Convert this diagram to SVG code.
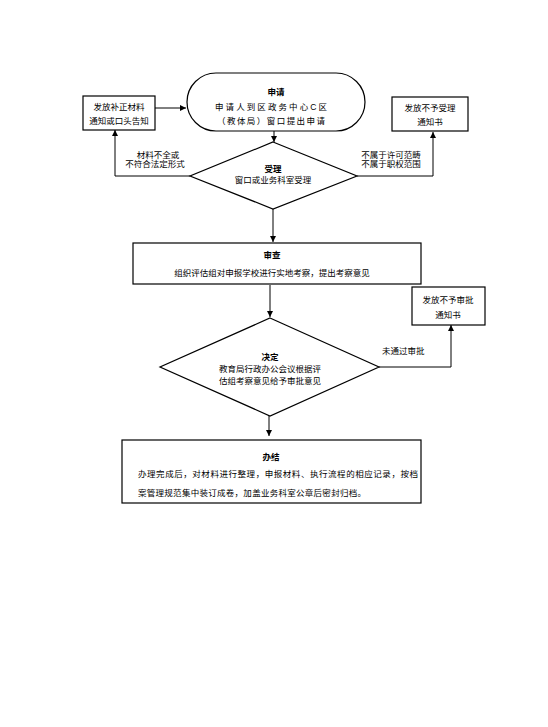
<svg xmlns="http://www.w3.org/2000/svg" width="548" height="727" viewBox="0 0 548 727">
<defs>
<marker id="ah" markerWidth="8" markerHeight="8" refX="6" refY="3" orient="auto" markerUnits="userSpaceOnUse">
<path d="M0,0 L6,3 L0,6 Z" fill="#000"/>
</marker>
<style>
.n{fill:#fff;stroke:#000;stroke-width:1.2}
.c{fill:none;stroke:#000;stroke-width:1;marker-end:url(#ah)}
.l{fill:none;stroke:#000;stroke-width:1}
text{font-family:"Liberation Sans","Noto Sans CJK SC",sans-serif;fill:#000;font-size:8.5px}
.b{font-weight:bold}
.m{text-anchor:middle}
</style>
</defs>
<rect width="548" height="727" fill="#fff"/>
<g id="connectors">
<path class="c" d="M155,108 L186,108"/>
<path class="c" d="M274,130 L274,142"/>
<path class="l" d="M190,176 L115,176"/>
<path class="c" d="M115,176 L115,130"/>
<path class="l" d="M357,176 L433,176"/>
<path class="c" d="M433,176 L433,132"/>
<path class="c" d="M273,209 L273,242"/>
<path class="c" d="M270,285 L270,317"/>
<path class="l" d="M379,367 L451,367"/>
<path class="c" d="M451,367 L451,325"/>
<path class="c" d="M269,415 L269,436"/>
</g>
<g id="n_apply">
<rect class="n" x="187" y="73" width="178" height="58" rx="29" ry="29"/>
<text class="m b" x="276" y="95">申请</text>
<text x="215" y="110" font-size="10" textLength="112" lengthAdjust="spacing">申请人到区政务中心C区</text>
<text x="217" y="124" font-size="10" textLength="108" lengthAdjust="spacing">（教体局）窗口提出申请</text>
</g>
<g id="n_supp">
<rect class="n" x="83" y="96" width="72" height="34"/>
<text class="m" x="119" y="110">发放补正材料</text>
<text class="m" x="119" y="124">通知或口头告知</text>
</g>
<g id="n_reject1">
<rect class="n" x="392" y="97" width="76" height="34"/>
<text class="m" x="430" y="111">发放不予受理</text>
<text class="m" x="430" y="125">通知书</text>
</g>
<g id="n_accept">
<polygon class="n" points="273,142 357,176 273,209 190,176"/>
<text class="m b" x="273" y="172">受理</text>
<text class="m" x="273" y="183">窗口或业务科室受理</text>
</g>
<g id="lbl1">
<text class="m" x="158" y="158" font-size="8">材料不全或</text>
<text class="m" x="155" y="167" font-size="8">不符合法定形式</text>
<text class="m" x="391" y="158" font-size="8">不属于许可范畴</text>
<text class="m" x="391" y="167" font-size="8">不属于职权范围</text>
</g>
<g id="n_review">
<rect class="n" x="133" y="243" width="288" height="41"/>
<text class="m b" x="272" y="258">审查</text>
<text class="m" x="272" y="276">组织评估组对申报学校进行实地考察，提出考察意见</text>
</g>
<g id="n_decide">
<polygon class="n" points="270,318 379,367 270,416 160,367"/>
<text class="m b" x="270" y="360">决定</text>
<text class="m" x="270" y="372">教育局行政办公会议根据评</text>
<text class="m" x="270" y="384">估组考察意见给予审批意见</text>
</g>
<g id="n_reject2">
<rect class="n" x="412" y="287" width="73" height="38"/>
<text class="m" x="448" y="303">发放不予审批</text>
<text class="m" x="448" y="318">通知书</text>
</g>
<text x="382" y="354" font-size="10.5">未通过审批</text>
<g id="n_done">
<rect class="n" x="122" y="440" width="299" height="63"/>
<text class="m b" x="271" y="460">办结</text>
<text x="138" y="477" font-size="9" textLength="280" lengthAdjust="spacing">办理完成后，对材料进行整理，申报材料、执行流程的相应记录，按档</text>
<text x="138" y="496" font-size="9" textLength="228" lengthAdjust="spacing">案管理规范集中装订成卷，加盖业务科室公章后密封归档。</text>
</g>
</svg>
